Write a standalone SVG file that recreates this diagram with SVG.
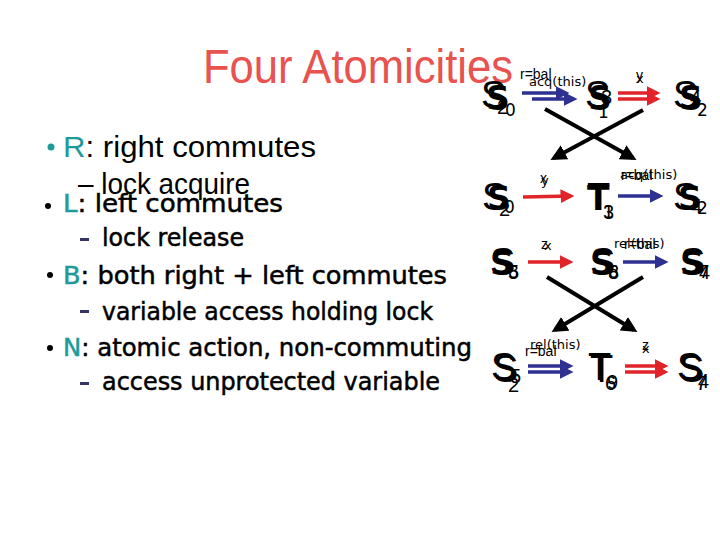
<svg xmlns="http://www.w3.org/2000/svg" width="720" height="540" viewBox="0 0 720 540">
<defs>
<marker id="hb" markerWidth="4" markerHeight="4" refX="3" refY="2" orient="auto" markerUnits="strokeWidth"><path d="M0,0 L4,2 L0,4 Z" fill="#2e3192"/></marker>
<marker id="hr" markerWidth="4" markerHeight="4" refX="3" refY="2" orient="auto" markerUnits="strokeWidth"><path d="M0,0 L4,2 L0,4 Z" fill="#e0242a"/></marker>
<marker id="hk" markerWidth="4" markerHeight="4" refX="3" refY="2" orient="auto" markerUnits="strokeWidth"><path d="M0,0 L4,2 L0,4 Z" fill="#000"/></marker>
</defs>
<style>
.title{font-family:"Liberation Sans",Arial,sans-serif;font-size:48px;fill:#e8524f}
.sa{font-family:"Liberation Sans",Arial,sans-serif;font-size:30px;fill:#000}
.sb{font-family:"DejaVu Sans",sans-serif;font-size:24px;fill:#000;stroke:#000;stroke-width:0.5}
.tc{fill:#1f9a9a;stroke:#1f9a9a}
.dash{fill:#333366}
.st1{font-family:"Liberation Sans",Arial,sans-serif;font-size:38px;fill:#000}
.st2{font-family:"DejaVu Sans",sans-serif;font-size:33px;font-weight:bold;fill:#000}
.sub{font-family:"Liberation Sans",Arial,sans-serif;font-size:20px;fill:#000}
.sub2{font-family:"DejaVu Sans",sans-serif;font-size:17px;fill:#000}
.lb{font-family:"Liberation Sans",Arial,sans-serif;font-size:14px;fill:#000}
.lb2{font-family:"DejaVu Sans",sans-serif;font-size:13px;fill:#000}
.ab{stroke:#2e3192;stroke-width:3.5;fill:none}
.ar{stroke:#e0242a;stroke-width:3.5;fill:none}
.ak{stroke:#000;stroke-width:4;fill:none}
</style>
<rect width="720" height="540" fill="#fff"/>
<text class="title" x="203" y="83" textLength="310" lengthAdjust="spacingAndGlyphs">Four Atomicities</text>

<g id="bullets">
<circle cx="51" cy="147" r="3.5" fill="#1f9a9a"/>
<text class="sa" x="63" y="157" textLength="253" lengthAdjust="spacingAndGlyphs"><tspan fill="#1f9a9a">R</tspan>: right commutes</text>
<text class="sa" x="78" y="194" font-size="27" textLength="172" lengthAdjust="spacingAndGlyphs">– lock acquire</text>
<circle cx="48" cy="206" r="3" fill="#000"/>
<text class="sb" x="63" y="212" textLength="220" lengthAdjust="spacingAndGlyphs"><tspan class="tc">L</tspan>: left commutes</text>
<rect class="dash" x="80" y="238" width="9" height="3"/>
<text class="sb" x="102" y="246" textLength="142" lengthAdjust="spacingAndGlyphs">lock release</text>
<circle cx="50" cy="275" r="3" fill="#000"/>
<text class="sb" x="63" y="284" textLength="384" lengthAdjust="spacingAndGlyphs"><tspan class="tc">B</tspan>: both right + left commutes</text>
<rect class="dash" x="80" y="310" width="9" height="3"/>
<text class="sb" x="102" y="320" textLength="331" lengthAdjust="spacingAndGlyphs">variable access holding lock</text>
<circle cx="50" cy="348" r="3" fill="#000"/>
<text class="sb" x="63" y="356" textLength="409" lengthAdjust="spacingAndGlyphs"><tspan class="tc">N</tspan>: atomic action, non-commuting</text>
<rect class="dash" x="80" y="382" width="9" height="3"/>
<text class="sb" x="102" y="390" textLength="338" lengthAdjust="spacingAndGlyphs">access unprotected variable</text>
</g>

<g id="n1a"><text class="st1" x="481" y="108">S</text><text class="st2" x="486" y="110">S</text><text class="sub" x="497" y="114">2</text><text class="sub2" x="505" y="116">0</text></g>
<g id="n1b"><text class="st1" x="585" y="108">S</text><text class="st2" x="588" y="110">S</text><text class="sub" x="601" y="104">3</text><text class="sub2" x="598" y="118">1</text></g>
<g id="n1c"><text class="st1" x="673" y="108">S</text><text class="st2" x="679" y="110">S</text><text class="sub" x="690" y="104">4</text><text class="sub2" x="697" y="116">2</text></g>

<g id="n2a"><text class="st1" x="482" y="210">S</text><text class="st2" x="487" y="210">S</text><text class="sub" x="499" y="216">2</text><text class="sub2" x="504" y="213">0</text></g>
<g id="n2b"><text class="st1" x="587" y="210">T</text><text class="st2" x="587" y="210">T</text><text class="sub" x="603" y="219">3</text><text class="sub2" x="603" y="218">1</text></g>
<g id="n2c"><text class="st1" x="673" y="210">S</text><text class="st2" x="678" y="210">S</text><text class="sub" x="691" y="213">4</text><text class="sub2" x="697" y="214">2</text></g>

<g id="n3a"><text class="st1" x="490" y="275">S</text><text class="st2" x="490" y="275">S</text><text class="sub" x="508" y="279">5</text><text class="sub2" x="508" y="278">8</text></g>
<g id="n3b"><text class="st1" x="590" y="275">S</text><text class="st2" x="590" y="275">S</text><text class="sub" x="608" y="279">8</text><text class="sub2" x="608" y="278">6</text></g>
<g id="n3c"><text class="st1" x="680" y="275">S</text><text class="st2" x="680" y="275">S</text><text class="sub" x="699" y="279">4</text><text class="sub2" x="699" y="278">7</text></g>

<g id="n4a"><text class="st1" x="491" y="380">S</text><text class="st1" x="493" y="382">S</text><text class="sub" x="510" y="383">5</text><text class="sub" x="508" y="392">2</text></g>
<g id="n4b"><text class="st1" x="588" y="380">T</text><text class="st1" x="590" y="382">T</text><text class="sub" x="605" y="390">6</text><text class="sub" x="607" y="389">9</text></g>
<g id="n4c"><text class="st1" x="677" y="380">S</text><text class="st1" x="679" y="382">S</text><text class="sub" x="696" y="390">7</text><text class="sub" x="698" y="388">4</text></g>

<g id="connectors">
<line class="ab" x1="522" y1="93" x2="566" y2="93" marker-end="url(#hb)"/>
<line class="ab" x1="532" y1="99" x2="574" y2="99" marker-end="url(#hb)"/>
<line class="ar" x1="618" y1="93" x2="657" y2="93" marker-end="url(#hr)"/>
<line class="ar" x1="618" y1="99" x2="657" y2="99" marker-end="url(#hr)"/>
<line class="ak" x1="545" y1="109" x2="633" y2="158" marker-end="url(#hk)"/>
<line class="ak" x1="643" y1="110" x2="554" y2="158" marker-end="url(#hk)"/>
<line class="ar" x1="523" y1="197" x2="571" y2="196" marker-end="url(#hr)"/>
<line class="ab" x1="618" y1="196" x2="660" y2="196" marker-end="url(#hb)"/>
<line class="ar" x1="528" y1="262" x2="570" y2="262" marker-end="url(#hr)"/>
<line class="ab" x1="623" y1="262" x2="665" y2="262" marker-end="url(#hb)"/>
<line class="ak" x1="547" y1="277" x2="634" y2="330" marker-end="url(#hk)"/>
<line class="ak" x1="643" y1="277" x2="555" y2="330" marker-end="url(#hk)"/>
<line class="ab" x1="528" y1="366" x2="570" y2="366" marker-end="url(#hb)"/>
<line class="ab" x1="528" y1="372" x2="570" y2="372" marker-end="url(#hb)"/>
<line class="ar" x1="625" y1="366" x2="665" y2="366" marker-end="url(#hr)"/>
<line class="ar" x1="625" y1="372" x2="665" y2="372" marker-end="url(#hr)"/>
<text class="lb" x="520" y="79">r=bal</text>
<text class="lb2" x="529" y="86">acq(this)</text>
<text class="lb" x="636" y="80">y</text>
<text class="lb2" x="636" y="83">x</text>
<text class="lb" x="540" y="183">x</text>
<text class="lb2" x="541" y="185">y</text>
<text class="lb2" x="620" y="179">acq(this)</text>
<text class="lb" x="621" y="180">r=bal</text>
<text class="lb" x="541" y="249">z</text>
<text class="lb2" x="544" y="250">x</text>
<text class="lb2" x="614" y="248">rel(this)</text>
<text class="lb" x="624" y="249">r=bal</text>
<text class="lb2" x="530" y="349">rel(this)</text>
<text class="lb" x="525" y="356">r=bal</text>
<text class="lb" x="642" y="350">z</text>
<text class="lb2" x="642" y="353">x</text>
</g>
</svg>
